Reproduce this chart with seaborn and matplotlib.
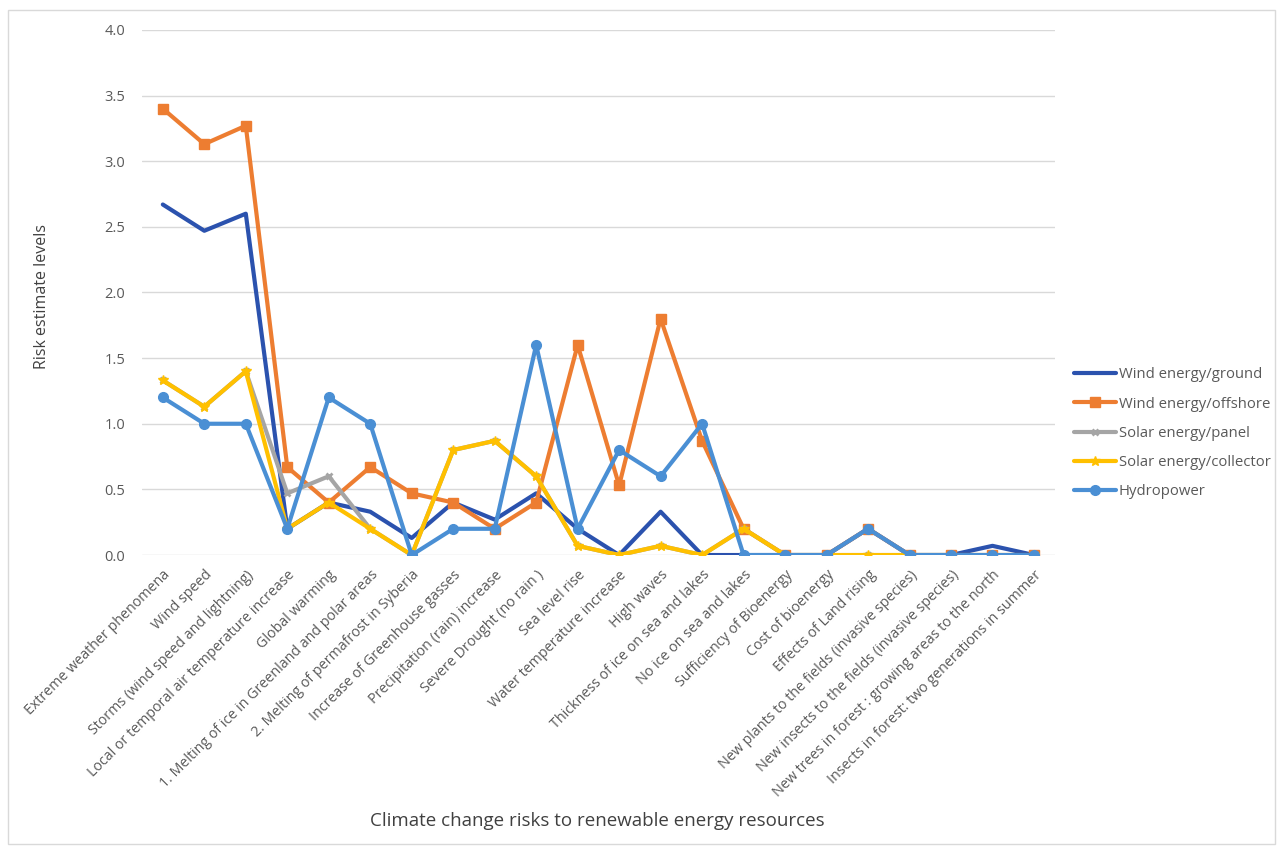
import matplotlib
matplotlib.use("Agg")
import matplotlib.pyplot as plt
import pandas as pd
import seaborn as sns
from matplotlib.patches import Rectangle

# ── Data ──────────────────────────────────────────────────────
categories = [
    "Extreme weather phenomena",
    "Wind speed",
    "Storms (wind speed and lightning)",
    "Local or temporal air temperature increase",
    "Global warming",
    "1. Melting of ice in Greenland and polar areas",
    "2. Melting of permafrost in Syberia",
    "Increase of Greenhouse gasses",
    "Precipitation (rain) increase",
    "Severe Drought (no rain )",
    "Sea level rise",
    "Water temperature increase",
    "High waves",
    "Thickness of ice on sea and lakes",
    "No ice on sea and lakes",
    "Sufficiency of Bioenergy",
    "Cost of bioenergy",
    "Effects of Land rising",
    "New plants to the fields (invasive species)",
    "New insects to the fields (invasive species)",
    "New trees in forest : growing areas to the north",
    "Insects in forest: two generations in summer",
]

wind_ground = [2.67, 2.47, 2.60, 0.20, 0.40, 0.33, 0.13, 0.40, 0.27, 0.47, 0.20,
               0.00, 0.33, 0.00, 0.00, 0.00, 0.00, 0.20, 0.00, 0.00, 0.07, 0.00]
wind_offshore = [3.40, 3.13, 3.27, 0.67, 0.40, 0.67, 0.47, 0.40, 0.20, 0.40, 1.60,
                 0.53, 1.80, 0.87, 0.20, 0.00, 0.00, 0.20, 0.00, 0.00, 0.00, 0.00]
solar_panel = [1.33, 1.13, 1.40, 0.47, 0.60, 0.20, 0.00, 0.80, 0.87, 0.60, 0.07,
               0.00, 0.07, 0.00, 0.20, 0.00, 0.00, 0.00, 0.00, 0.00, 0.00, 0.00]
solar_collector = [1.33, 1.13, 1.40, 0.20, 0.40, 0.20, 0.00, 0.80, 0.87, 0.60, 0.07,
                   0.00, 0.07, 0.00, 0.20, 0.00, 0.00, 0.00, 0.00, 0.00, 0.00, 0.00]
hydropower = [1.20, 1.00, 1.00, 0.20, 1.20, 1.00, 0.00, 0.20, 0.20, 1.60, 0.20,
              0.80, 0.60, 1.00, 0.00, 0.00, 0.00, 0.20, 0.00, 0.00, 0.00, 0.00]

series_names = ["Wind energy/ground", "Wind energy/offshore", "Solar energy/panel",
                "Solar energy/collector", "Hydropower"]
series_values = [wind_ground, wind_offshore, solar_panel, solar_collector, hydropower]

# ── Style ─────────────────────────────────────────────────────
sns.set_theme(style="white")
plt.rcParams["font.family"] = ["Open Sans", "DejaVu Sans"]
text_col = "#595959"

colors = ["#2B52AE", "#ED7D31", "#A5A5A5", "#FFC000", "#4A8FD4"]
markers = [None, "s", "x", "*", "o"]
msizes = [0, 7, 5, 7, 7]
medges = [1, 1, 2, 1, 1]

rows = []
for name, vals in zip(series_names, series_values):
    for i, v in enumerate(vals):
        rows.append({"series": name, "pos": i, "value": v})
df = pd.DataFrame(rows)

fig = plt.figure(figsize=(12.8, 8.47), dpi=100)
ax = fig.add_axes([0.111, 0.3447, 0.713, 0.62])

for name, col, mk, ms, me in zip(series_names, colors, markers, msizes, medges):
    sub = df[df["series"] == name]
    sns.lineplot(data=sub, x="pos", y="value", ax=ax, color=col, linewidth=3,
                 marker=mk, markersize=ms, markeredgecolor=col, markeredgewidth=me,
                 label=name, sort=False)

ax.set_xlim(-0.5, len(categories) - 0.5)
ax.set_ylim(0, 4.0)
ax.set_yticks([i * 0.5 for i in range(9)])
ax.set_yticklabels([f"{i * 0.5:.1f}" for i in range(9)], fontsize=10.5, color=text_col)
ax.set_xticks(range(len(categories)))
ax.set_xticklabels(categories, rotation=45, ha="right", va="top",
                   rotation_mode="anchor", fontsize=10.3, color=text_col)
ax.tick_params(axis="x", length=0, pad=9)
ax.tick_params(axis="y", length=0, pad=12)
ax.grid(axis="y", color="#D9D9D9", linewidth=1)
for s in ax.spines.values():
    s.set_visible(False)

ax.set_xlabel("")
ax.set_ylabel("")
fig.text(0.033, 0.65, "Risk estimate levels", rotation=90, ha="center", va="center",
         fontsize=11.5, color="#404040")
fig.text(0.467, 0.031, "Climate change risks to renewable energy resources",
         ha="center", va="center", fontsize=13.5, color="#404040")

leg = ax.legend(loc="center left", bbox_to_anchor=(1.015, 0.232), frameon=False,
                fontsize=10.7, handlelength=2.8, handletextpad=0.2,
                labelspacing=0.95, labelcolor=text_col, borderaxespad=0)

fig.patches.append(Rectangle((0.006, 0.004), 0.99, 0.984, transform=fig.transFigure,
                             fill=False, edgecolor="#D9D9D9", linewidth=1))

fig.savefig("out.png", dpi=100, facecolor="white")
